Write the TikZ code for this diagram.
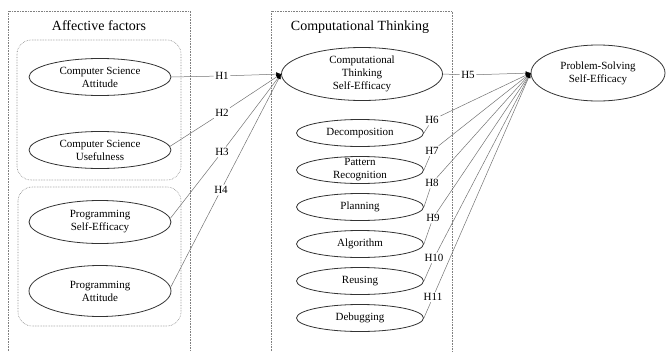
\documentclass[tikz,border=0pt]{standalone}
\usepackage{fontspec}
\setmainfont{Liberation Serif}
\usetikzlibrary{shapes.geometric,arrows.meta}
\begin{document}
\begin{tikzpicture}[x=1pt,y=-1pt,
  ell/.style={draw=black!80, line width=0.8pt, ellipse, inner sep=0pt, align=center,
    font=\fontsize{11}{13}\selectfont},
  bigell/.style={ell, minimum width=142pt},
  smallell/.style={ell, minimum width=127pt, minimum height=27pt},
  grp/.style={draw=gray, densely dotted, line width=0.6pt},
  ttl/.style={font=\fontsize{14}{16}\selectfont},
  hlab/.style={font=\fontsize{11}{12}\selectfont, fill=white, inner sep=1.5pt},
  conn/.style={draw=gray!90!black, line width=0.5pt},
  arr/.style={conn, -{Latex[length=5pt,width=4pt,color=black]}}]
\useasboundingbox (0,0) rectangle (666,351);

% group boxes
\draw[grp] (8,351) -- (8,11) -- (190,11) -- (190,351);
\draw[grp] (271,351) -- (271,11) -- (452,11) -- (452,351);
\draw[grp, rounded corners=14pt] (17,40) rectangle (181,180);
\draw[grp, rounded corners=14pt] (18,187) rectangle (181,326);

\node[ttl] (aftitle) at (99,26) {Affective factors};
\node[ttl] (cttitle) at (360,27) {Computational Thinking};

% left ellipses
\node[bigell, minimum height=37pt] (csa) at (100,77) {Computer Science\\Attitude};
\node[bigell, minimum height=37pt] (csu) at (100,150) {Computer Science\\Usefulness};
\node[bigell, minimum height=43pt] (pse) at (100,222) {Programming\\Self-Efficacy};
\node[bigell, minimum height=51pt] (pa) at (100,291) {Programming\\Attitude};

% CT ellipses
\node[ell, minimum width=161pt, minimum height=53pt] (ctse) at (362,74) {Computational\\Thinking\\Self-Efficacy};
\node[smallell] (dec) at (360,133) {Decomposition};
\node[smallell, inner ysep=-6pt] (pat) at (360,170) {Pattern\\Recognition};
\node[smallell] (pla) at (360,207) {Planning};
\node[smallell] (alg) at (360,244) {Algorithm};
\node[smallell] (reu) at (360,281) {Reusing};
\node[smallell] (deb) at (360,318) {Debugging};

% outcome
\node[ell, minimum width=134pt, minimum height=56pt] (psse) at (598,73) {Problem-Solving\\Self-Efficacy};

\coordinate (tip1) at (ctse.west);
\coordinate (tip2) at (psse.west);

% hypothesis labels
\node[hlab] (h1) at (222,76) {H1};
\node[hlab] (h2) at (222,113) {H2};
\node[hlab] (h3) at (222,152) {H3};
\node[hlab] (h4) at (221,190) {H4};
\node[hlab] (h5) at (468,75) {H5};
\node[hlab] (h6) at (432,120) {H6};
\node[hlab] (h7) at (432,151) {H7};
\node[hlab] (h8) at (432,183) {H8};
\node[hlab] (h9) at (433,218) {H9};
\node[hlab] (h10) at (434,258) {H10};
\node[hlab] (h11) at (433,297) {H11};

% connectors (left)
\draw[conn] (csa.east) -- (h1);  \draw[arr] (h1) -- (tip1);
\draw[conn] (csu.3) -- (h2);     \draw[arr] (h2) -- (tip1);
\draw[conn] (pse.3) -- (h3);     \draw[arr] (h3) -- (tip1);
\draw[conn] (pa.3) -- (h4);      \draw[arr] (h4) -- (tip1);

% connectors (right)
\draw[conn] (ctse.east) -- (h5); \draw[arr] (h5) -- (tip2);
\draw[conn] (dec.east) -- (h6);  \draw[arr] (h6) -- (tip2);
\draw[conn] (pat.east) -- (h7);  \draw[arr] (h7) -- (tip2);
\draw[conn] (pla.east) -- (h8);  \draw[arr] (h8) -- (tip2);
\draw[conn] (alg.east) -- (h9);  \draw[arr] (h9) -- (tip2);
\draw[conn] (reu.east) -- (h10); \draw[arr] (h10) -- (tip2);
\draw[conn] (deb.east) -- (h11); \draw[arr] (h11) -- (tip2);
\end{tikzpicture}
\end{document}
